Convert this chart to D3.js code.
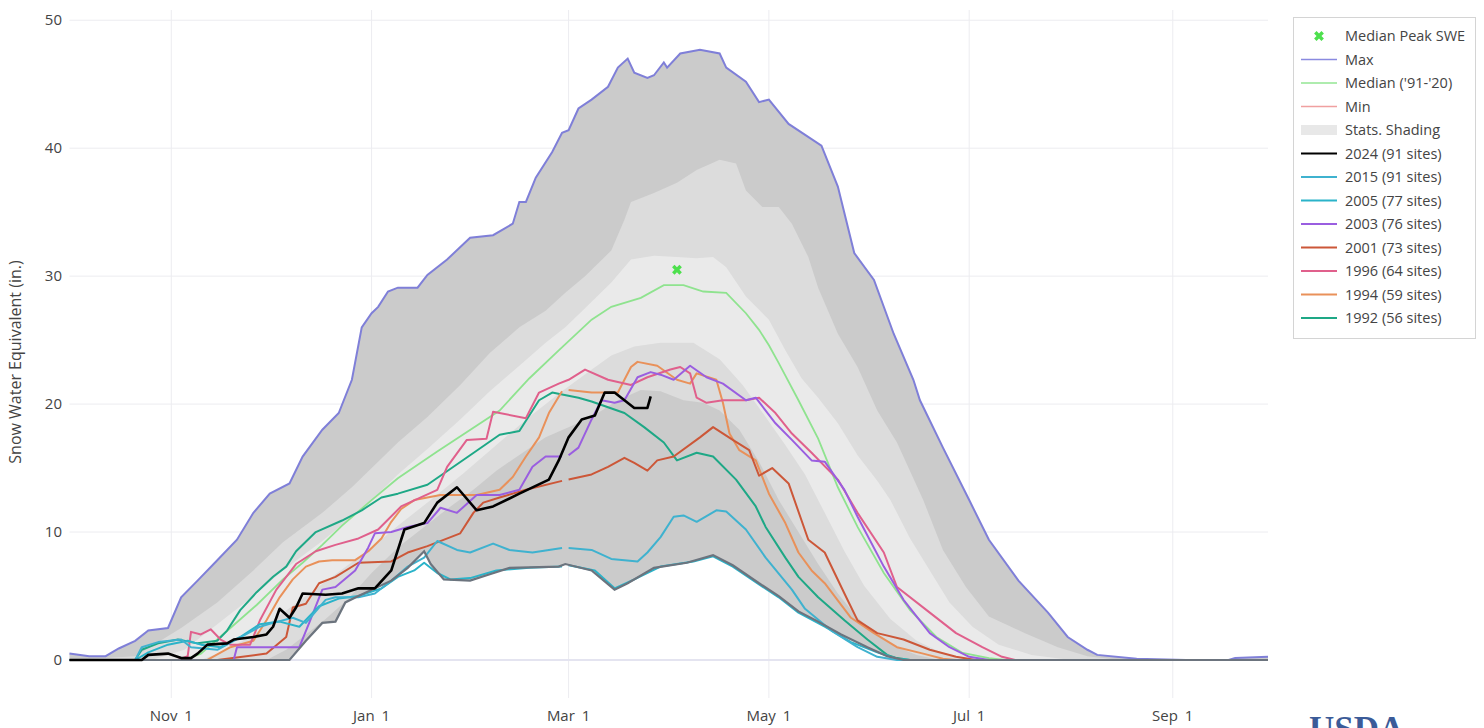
<!DOCTYPE html>
<html>
<head>
<meta charset="utf-8">
<script src="https://cdn.jsdelivr.net/npm/d3@7"></script>
<style>
    body { margin: 0; background: #fff; }
    text { font-family: "Open Sans", "Noto Sans", sans-serif; fill: #444; }
</style>
</head>
<body>
<div id="sweVis"></div>
<script>
// water year starts Oct 1, every point is [day of water year, SWE inches]
const wyStart = new Date(2023, 9, 1);
const wyEnd = new Date(2024, 8, 30);

const yTicks = [0, 10, 20, 30, 40, 50];
const xTickDates = ["2023-11-01", "2024-01-01", "2024-03-01", "2024-05-01", "2024-07-01", "2024-09-01"];
const xTickLabels = ["Nov 1", "Jan 1", "Mar 1", "May 1", "Jul 1", "Sep 1"];

const maxSWE = [[0,0.5],[6,0.3],[11,0.3],[15,0.9],[20,1.5],[24,2.3],[30,2.5],[34,4.9],[39,6.2],[45,7.8],[51,9.4],[56,11.5],[61,13.0],[67,13.8],[71,15.9],[77,18.0],[82,19.3],[86,21.9],[89,26.0],[92,27.1],[94,27.6],[97,28.8],[100,29.1],[106,29.1],[109,30.1],[115,31.3],[122,33.0],[129,33.2],[135,34.1],[137,35.8],[139,35.8],[142,37.7],[147,39.7],[150,41.2],[152,41.4],[155,43.1],[159,43.8],[164,44.8],[167,46.3],[170,47.0],[172,45.9],[176,45.5],[178,45.7],[181,46.7],[182,46.3],[186,47.4],[192,47.7],[198,47.4],[200,46.3],[206,45.2],[210,43.6],[213,43.8],[219,41.9],[229,40.2],[234,37.0],[239,31.8],[245,29.7],[251,25.5],[257,21.9],[259,20.3],[266,16.6],[274,12.5],[280,9.4],[289,6.2],[298,3.7],[304,1.8],[310,0.8],[313,0.4],[325,0.1],[340,0],[353,0],[355,0.15],[365,0.25]];
const p90SWE = [[0,0],[20,0.3],[34,2.5],[45,4.5],[56,7.0],[65,9.2],[77,11.5],[86,13.5],[94,15.5],[100,17.0],[109,19.0],[119,21.5],[128,24.0],[137,26.0],[145,27.3],[151,28.7],[157,30.0],[165,32.0],[169,34.4],[171,35.8],[178,36.5],[185,37.3],[191,38.3],[198,39.1],[203,38.8],[206,36.7],[211,35.4],[216,35.4],[220,34.1],[225,31.5],[228,29.1],[234,25.5],[240,22.9],[246,19.5],[252,17.0],[260,12.5],[266,8.6],[273,5.7],[280,3.4],[291,2.1],[301,1.0],[310,0.3],[320,0],[365,0]];
const p70SWE = [[0,0],[25,0],[35,0.8],[45,2.8],[56,5.0],[65,7.0],[77,9.3],[86,11.2],[94,13.0],[100,14.5],[109,16.5],[119,18.8],[128,21.0],[137,23.0],[145,24.8],[151,26.0],[157,27.5],[165,29.5],[171,31.3],[178,31.6],[185,31.5],[191,31.4],[196,31.5],[200,30.7],[206,28.4],[213,26.6],[218,24.2],[223,22.0],[228,20.5],[234,18.5],[240,16.0],[246,14.0],[250,12.5],[256,9.5],[262,7.0],[268,4.5],[275,2.6],[283,1.2],[293,0.4],[305,0],[365,0]];
const medianSWE = [[0,0],[35,0],[40,0.5],[49,2.5],[57,4.3],[65,6.3],[71,7.6],[77,9.0],[83,10.5],[92,12.5],[100,14.2],[112,16.3],[131,19.5],[140,22.0],[149,24.2],[159,26.6],[165,27.6],[174,28.3],[181,29.3],[187,29.3],[193,28.8],[200,28.7],[206,27.1],[210,25.8],[213,24.6],[216,23.2],[222,20.3],[228,17.3],[234,13.5],[240,10.4],[248,6.8],[256,3.9],[264,1.8],[272,0.55],[280,0.15],[285,0],[365,0]];
const p30SWE = [[0,0],[40,0],[48,0.8],[56,2.0],[64,3.5],[72,5.0],[80,6.5],[92,8.8],[100,10.5],[110,12.5],[120,14.6],[130,16.8],[140,19.0],[150,21.0],[158,22.5],[165,23.8],[172,24.5],[180,24.8],[190,24.8],[198,23.5],[205,21.5],[212,19.0],[218,16.8],[224,14.5],[230,11.5],[236,8.5],[242,5.8],[250,3.2],[258,1.5],[266,0.5],[275,0],[365,0]];
const p10SWE = [[0,0],[60,0],[66,0.8],[72,2.0],[78,3.2],[85,4.8],[92,6.8],[100,8.8],[108,10.4],[115,11.8],[123,13.3],[130,14.8],[138,16.2],[145,17.4],[152,18.2],[159,19.0],[167,20.3],[174,21.1],[180,21.0],[187,20.3],[193,20.1],[198,19.5],[204,18.0],[210,15.5],[216,12.5],[222,10.0],[228,7.5],[234,5.2],[240,3.3],[246,2.0],[252,1.0],[258,0.4],[265,0],[365,0]];
const minSWE = [[0,0],[67,0],[72,1.5],[77,2.9],[81,3.0],[84,4.5],[88,5.0],[98,6.2],[103,7.2],[108,8.5],[110,7.5],[114,6.3],[122,6.2],[128,6.7],[134,7.2],[149,7.3],[151,7.5],[159,7.0],[166,5.5],[170,6.0],[178,7.2],[188,7.6],[196,8.2],[202,7.4],[210,6.0],[216,5.0],[222,3.8],[228,3.0],[235,2.0],[243,1.0],[249,0.3],[254,0],[365,0]];

// years (null at Feb 29 for non-leap years)
const wy2024 = [[0,0],[22,0],[24,0.4],[30,0.5],[34,0.15],[37,0.15],[39,0.5],[42,1.2],[48,1.3],[50,1.6],[56,1.8],[60,2.0],[62,2.6],[64,4.0],[67,3.3],[69,4.1],[71,5.2],[78,5.1],[83,5.2],[88,5.6],[93,5.6],[98,7.0],[102,10.2],[108,10.7],[112,12.3],[118,13.5],[124,11.7],[129,12.0],[137,13.0],[146,14.1],[149,15.6],[152,17.4],[156,18.8],[160,19.1],[163,20.9],[166,20.9],[172,19.7],[176,19.7],[177,20.6]];
const wy2015 = [[0,0],[20,0],[22,1.0],[27,1.4],[34,1.6],[37,1.0],[45,0.8],[58,2.6],[62,2.9],[68,3.3],[72,2.9],[78,4.7],[81,4.9],[88,4.9],[93,5.2],[98,6.2],[103,7.3],[108,8.0],[112,9.3],[118,8.6],[122,8.4],[129,9.1],[134,8.6],[141,8.4],[150,8.75],[151,null],[152,8.75],[159,8.6],[165,7.9],[173,7.7],[176,8.4],[180,9.6],[184,11.2],[187,11.3],[191,10.8],[197,11.7],[200,11.6],[206,10.2],[212,8.0],[220,5.5],[224,4.0],[232,2.3],[240,1.0],[246,0.25],[252,0],[365,0]];
const wy2005 = [[0,0],[20,0],[24,0.6],[30,1.2],[36,1.5],[40,1.2],[46,1.0],[52,1.8],[58,2.8],[64,3.0],[70,2.6],[76,4.2],[82,4.8],[88,5.0],[95,5.6],[100,6.5],[105,7.0],[108,7.6],[112,6.8],[116,6.3],[122,6.4],[130,7.0],[140,7.2],[150,7.3],[151,null],[152,7.4],[160,7.0],[166,5.6],[172,6.3],[180,7.3],[190,7.7],[196,8.1],[202,7.3],[210,5.9],[216,4.9],[222,3.7],[230,2.6],[238,1.4],[246,0.6],[252,0.1],[256,0],[365,0]];
const wy2003 = [[0,0],[50,0],[51,1.0],[70,1.0],[73,2.9],[77,5.5],[81,5.7],[87,7.0],[91,8.8],[93,9.9],[98,10.0],[103,10.4],[109,10.7],[113,11.9],[118,11.5],[124,12.9],[131,12.9],[137,13.3],[141,15.1],[145,15.9],[150,15.9],[151,null],[152,16.0],[155,16.6],[159,18.8],[162,20.3],[166,20.1],[169,20.3],[173,22.1],[177,22.5],[180,22.3],[184,21.9],[189,23.0],[194,22.1],[199,21.6],[206,20.3],[209,20.5],[215,18.5],[220,17.2],[226,15.6],[230,15.5],[236,13.3],[240,11.2],[248,7.3],[254,4.7],[262,2.1],[268,1.0],[274,0.25],[280,0],[365,0]];
const wy2001 = [[0,0],[45,0],[60,0.5],[66,1.8],[68,4.1],[72,4.4],[76,6.0],[81,6.5],[88,7.6],[98,7.7],[103,8.4],[109,8.9],[119,9.9],[123,11.5],[126,12.3],[131,12.7],[139,13.3],[150,14.0],[151,null],[152,14.1],[159,14.5],[164,15.1],[169,15.8],[172,15.4],[176,14.8],[179,15.6],[184,15.9],[192,17.4],[196,18.2],[202,17.2],[207,16.4],[210,14.4],[214,15.0],[219,13.8],[225,9.4],[230,8.4],[236,5.2],[240,3.1],[246,2.1],[254,1.6],[262,0.8],[270,0.25],[276,0],[365,0]];
const wy1996 = [[0,0],[33,0],[36,0.3],[37,2.2],[40,2.0],[43,2.4],[46,1.6],[49,1.2],[55,1.2],[58,3.1],[63,5.5],[69,7.5],[75,8.5],[81,9.0],[88,9.5],[94,10.2],[101,12.0],[112,13.3],[115,15.1],[121,17.2],[127,17.3],[129,19.4],[139,18.9],[143,20.9],[149,21.6],[152,21.9],[157,22.7],[164,21.9],[171,21.5],[176,22.1],[183,22.7],[186,22.9],[189,22.4],[191,20.5],[194,20.1],[199,20.3],[206,20.3],[210,20.5],[215,19.3],[220,17.7],[226,16.2],[234,14.1],[240,11.5],[248,8.4],[252,5.7],[262,3.7],[270,2.1],[278,1.0],[284,0.25],[288,0],[365,0]];
const wy1994 = [[0,0],[42,0],[49,1.0],[56,1.5],[60,3.1],[64,4.9],[68,6.3],[72,7.3],[76,7.7],[80,7.8],[87,7.8],[91,8.5],[95,9.5],[98,10.8],[101,11.8],[105,12.5],[113,12.9],[124,12.9],[131,13.3],[135,14.3],[139,15.9],[143,17.4],[146,19.3],[150,21.0],[151,null],[152,21.1],[159,20.9],[167,20.9],[171,22.9],[173,23.3],[179,23.0],[185,21.9],[189,21.6],[191,22.4],[197,21.9],[199,20.1],[201,17.7],[204,16.4],[209,15.6],[213,13.0],[218,10.7],[222,8.4],[226,7.0],[230,6.0],[238,3.3],[245,2.1],[252,1.0],[260,0.5],[266,0.1],[270,0],[365,0]];
const wy1992 = [[0,0],[20,0],[22,0.8],[27,1.3],[33,1.6],[39,1.3],[45,1.5],[48,2.3],[52,3.9],[57,5.3],[62,6.5],[66,7.3],[69,8.5],[75,10.0],[83,10.9],[89,11.7],[95,12.7],[100,13.0],[109,13.7],[122,16.0],[131,17.6],[137,17.9],[143,20.3],[147,20.9],[155,20.5],[159,20.2],[169,19.3],[175,18.2],[181,17.0],[185,15.6],[191,16.2],[196,15.9],[203,14.1],[209,12.0],[212,10.4],[218,8.0],[222,6.5],[228,4.9],[236,3.1],[243,1.6],[249,0.4],[252,0.15],[256,0],[365,0]];

const medianPeak = [185, 30.5];

const yearSeries = [
    {name: "1992 (56 sites)", data: wy1992, color: "#1ea886"},
    {name: "1994 (59 sites)", data: wy1994, color: "#e9915a"},
    {name: "1996 (64 sites)", data: wy1996, color: "#e0608c"},
    {name: "2001 (73 sites)", data: wy2001, color: "#cc5738"},
    {name: "2003 (76 sites)", data: wy2003, color: "#9a5ee0"},
    {name: "2005 (77 sites)", data: wy2005, color: "#2bb3c9"},
    {name: "2015 (91 sites)", data: wy2015, color: "#3fb2cf"},
    {name: "2024 (91 sites)", data: wy2024, color: "#000000"}
];

class SnowVis {
    constructor(parentElement) {
        this.parentElement = parentElement;
        this.initVis();
    }

    initVis() {
        let vis = this;

        vis.svg = d3.select("#" + vis.parentElement)
            .append("svg")
            .attr("width", 1484)
            .attr("height", 728);

        vis.x = d3.scaleTime()
            .domain([wyStart, wyEnd])
            .range([69.5, 1268]);
        vis.y = d3.scaleLinear()
            .domain([-2.97, 50.8])
            .range([698, 10]);

        vis.px = d => vis.x(d3.timeDay.offset(wyStart, d[0]));
        vis.py = d => vis.y(d[1]);

        // grid
        vis.svg.append("g")
            .selectAll("line.vgrid")
            .data(xTickDates)
            .enter()
            .append("line")
            .attr("x1", d => vis.x(new Date(d + "T00:00")))
            .attr("x2", d => vis.x(new Date(d + "T00:00")))
            .attr("y1", 10)
            .attr("y2", 698)
            .attr("stroke", "#ececf0")
            .attr("stroke-width", 1);
        vis.svg.append("g")
            .selectAll("line.hgrid")
            .data(yTicks)
            .enter()
            .append("line")
            .attr("x1", 69.5)
            .attr("x2", 1268)
            .attr("y1", d => vis.y(d))
            .attr("y2", d => vis.y(d))
            .attr("stroke", d => d === 0 ? "#e4e4f0" : "#ececf0")
            .attr("stroke-width", d => d === 0 ? 2 : 1);

        // stats shading
        let band = (upper, lower) => {
            let pts = upper.map(d => [vis.px(d), vis.py(d)])
                .concat(lower.slice().reverse().map(d => [vis.px(d), vis.py(d)]));
            return d3.line()(pts) + "Z";
        };
        vis.svg.append("path").attr("d", band(maxSWE, minSWE)).attr("fill", "#cbcbcb");
        vis.svg.append("path").attr("d", band(p90SWE, p10SWE)).attr("fill", "#dcdcdc");
        vis.svg.append("path").attr("d", band(p70SWE, p30SWE)).attr("fill", "#eaeaea");

        vis.line = d3.line()
            .defined(d => d[1] !== null)
            .x(vis.px)
            .y(vis.py);

        vis.svg.append("path").attr("d", vis.line(maxSWE))
            .attr("fill", "none").attr("stroke", "#7f7fd8").attr("stroke-width", 2);
        vis.svg.append("path").attr("d", vis.line(medianSWE))
            .attr("fill", "none").attr("stroke", "#8fe38f").attr("stroke-width", 1.8);

        yearSeries.forEach(s => {
            if (s.name.startsWith("2024")) {
                // min line sits under the current year
                vis.svg.append("path").attr("d", vis.line(minSWE))
                    .attr("fill", "none").attr("stroke", "#6c747e").attr("stroke-width", 2.2);
            }
            vis.svg.append("path").attr("d", vis.line(s.data))
                .attr("fill", "none")
                .attr("stroke", s.color)
                .attr("stroke-width", s.name.startsWith("2024") ? 2.6 : 2)
                .attr("stroke-linejoin", "round");
        });

        // median peak marker
        vis.drawX(vis.px(medianPeak), vis.py(medianPeak));

        // axes labels
        vis.svg.append("g")
            .selectAll("text")
            .data(yTicks)
            .enter()
            .append("text")
            .attr("x", 62)
            .attr("y", d => vis.y(d))
            .attr("dy", "0.35em")
            .attr("text-anchor", "end")
            .style("font-size", "15px")
            .text(d => d);
        vis.svg.append("g")
            .selectAll("text")
            .data(xTickDates)
            .enter()
            .append("text")
            .attr("x", d => vis.x(new Date(d + "T00:00")))
            .attr("y", 721)
            .attr("text-anchor", "middle")
            .style("font-size", "15px")
            .style("word-spacing", "3px")
            .text((d, i) => xTickLabels[i]);
        vis.svg.append("text")
            .attr("transform", "translate(21,362) rotate(-90)")
            .attr("text-anchor", "middle")
            .style("font-size", "16px")
            .text("Snow Water Equivalent (in.)");

        vis.drawLegend();

        // logo peeking in at the bottom
        vis.svg.append("text")
            .attr("x", 1309)
            .attr("y", 741)
            .style("font-family", "'Liberation Serif', 'DejaVu Serif', serif")
            .style("font-size", "35px")
            .style("font-weight", "bold")
            .style("fill", "#3b5b98")
            .text("USDA");
    }

    drawX(cx, cy) {
        let vis = this;
        vis.svg.append("path")
            .attr("d", d3.symbol().type(d3.symbolCross).size(60)())
            .attr("transform", "translate(" + cx + "," + cy + ") rotate(45)")
            .attr("fill", "#4de04d");
    }

    drawLegend() {
        let vis = this;
        let items = [
            {name: "Median Peak SWE", type: "x", color: "#4de04d"},
            {name: "Max", type: "line", color: "#8a8ae0", w: 1.5},
            {name: "Median ('91-'20)", type: "line", color: "#93e693", w: 1.5},
            {name: "Min", type: "line", color: "#f0a0a0", w: 1.5},
            {name: "Stats. Shading", type: "shade", color: "#e8e8e8"}
        ];
        yearSeries.slice().reverse().forEach(s => items.push({name: s.name, type: "line", color: s.color, w: 2}));

        let lg = vis.svg.append("g");
        lg.append("rect")
            .attr("x", 1293.5).attr("y", 17.5)
            .attr("width", 182).attr("height", 321)
            .attr("fill", "#fff").attr("stroke", "#d4d4d4");

        items.forEach((d, i) => {
            let cy = 36 + i * 23.5;
            if (d.type === "x") {
                lg.append("path")
                    .attr("d", d3.symbol().type(d3.symbolCross).size(60)())
                    .attr("transform", "translate(1319," + cy + ") rotate(45)")
                    .attr("fill", d.color);
            } else if (d.type === "shade") {
                lg.append("rect")
                    .attr("x", 1301).attr("y", cy - 5)
                    .attr("width", 36).attr("height", 10)
                    .attr("fill", d.color);
            } else {
                lg.append("line")
                    .attr("x1", 1301).attr("x2", 1337)
                    .attr("y1", cy).attr("y2", cy)
                    .attr("stroke", d.color).attr("stroke-width", d.w);
            }
            lg.append("text")
                .attr("x", 1345)
                .attr("y", cy)
                .attr("dy", "0.35em")
                .style("font-size", "14.5px")
                .text(d.name);
        });
    }
}

new SnowVis("sweVis");
</script>
</body>
</html>
